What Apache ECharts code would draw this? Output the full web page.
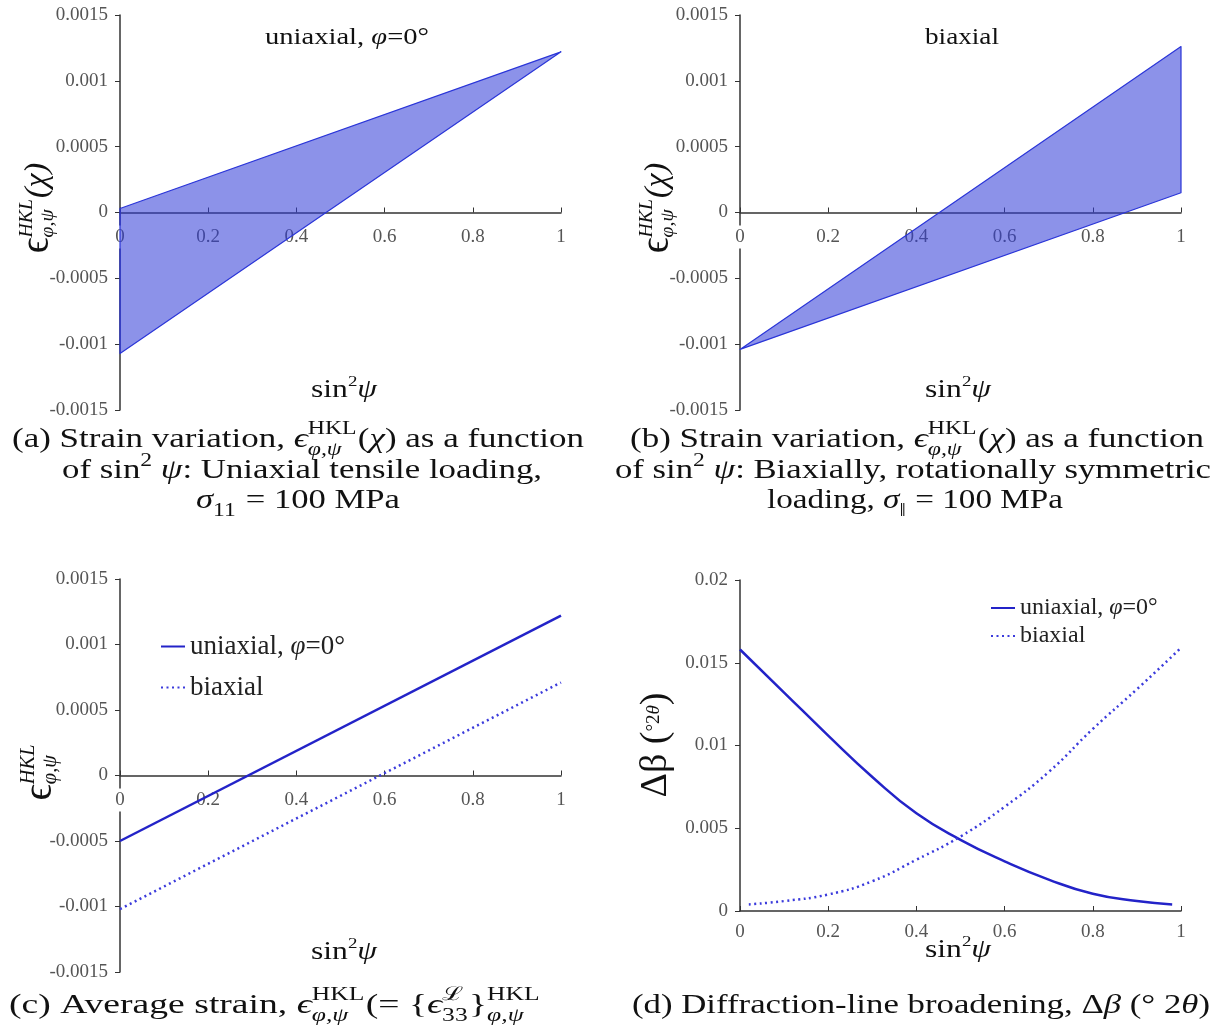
<!DOCTYPE html>
<html>
<head>
<meta charset="utf-8">
<script src="https://cdn.jsdelivr.net/npm/echarts@6/dist/echarts.min.js"></script>
<style>
html, body { margin: 0; padding: 0; background: #fff; }
#main { width: 1221px; height: 1030px; }
</style>
</head>
<body>
<div id="main"></div>
<script>
var SERIF = '"Liberation Serif", "DejaVu Serif", serif';
var UNI = 'uniaxial, φ=0°';
var BI = 'biaxial';
var BLUE = '#2323c8';
var BLUE_DOT = '#3b3bdc';

// (a) corners of the uniaxial scatter band
var uniBandX = [0, 1, 0];
var uniBandY = [0.00003, 0.00122, -0.00107];
// (b) corners of the biaxial scatter band
var biBandX = [0, 1, 1];
var biBandY = [-0.00104, 0.00126, 0.00015];
// (c) average strain
var avgX = [0, 1];
var avgUniY = [-0.0005, 0.00122];
var avgBiY = [-0.00102, 0.00071];
// (d) line broadening
var brdUniX = [0, 0.1, 0.2, 0.3, 0.4, 0.5, 0.6, 0.7, 0.8, 0.9, 0.98];
var brdUniY = [0.0158, 0.0132, 0.0106, 0.0081, 0.0059, 0.0043, 0.0030, 0.0019, 0.00104, 0.0006, 0.0004];
var brdBiX = [0.02, 0.1, 0.2, 0.3, 0.4, 0.5, 0.6, 0.7, 0.8, 0.9, 1];
var brdBiY = [0.0004, 0.0006, 0.0010, 0.0018, 0.0031, 0.0045, 0.0063, 0.0084, 0.0110, 0.0134, 0.0159];

function pairs(xs, ys) {
    return xs.map(function (x, i) { return [x, ys[i]]; });
}

// text helpers (captions and math-ish titles)
var ctx = document.createElement('canvas').getContext('2d');
function measure(t, size, italic) {
    ctx.font = (italic ? 'italic ' : '') + size + 'px ' + SERIF;
    return ctx.measureText(t).width;
}
function txt(t, x, y, size, italic) {
    return {
        type: 'text', x: x, y: y,
        style: {
            text: t, fontSize: size, fontFamily: SERIF,
            fontStyle: italic ? 'italic' : 'normal',
            fill: '#111', align: 'left', verticalAlign: 'middle'
        }
    };
}
// parts: [text, italic, sizeFactor, dy] or {sup, sub, supIt, subIt}
function mathRow(parts, size) {
    var kids = [], x = 0;
    parts.forEach(function (p) {
        if (Array.isArray(p)) {
            var s = size * (p[2] || 1);
            kids.push(txt(p[0], x, (p[3] || 0) * size, s, p[1]));
            x += measure(p[0], s, p[1]);
        } else {
            var s2 = size * 0.68, w = 0;
            if (p.sup) {
                kids.push(txt(p.sup, x, -0.38 * size, s2, p.supIt));
                w = measure(p.sup, s2, p.supIt);
            }
            if (p.sub) {
                kids.push(txt(p.sub, x, 0.34 * size, s2, p.subIt));
                w = Math.max(w, measure(p.sub, s2, p.subIt));
            }
            x += w + 1;
        }
    });
    return { kids: kids, width: x };
}
function textRow(parts, size, cx, cy, width) {
    var r = mathRow(parts, size);
    var sx = width ? width / r.width : 1;
    return { type: 'group', x: cx - r.width * sx / 2, y: cy, scaleX: sx, children: r.kids };
}
function vertTitle(parts, size, cx, cy) {
    var r = mathRow(parts, size);
    return { type: 'group', x: cx, y: cy + r.width / 2, rotation: Math.PI / 2, children: r.kids };
}

var EPS_HKL = { sup: 'HKL', sub: 'φ,ψ', subIt: true };
var SIN2 = [['sin'], ['2', false, 0.6, -0.3], ['ψ', true]];

// x axis sits on the zero line via offset (labels follow it)
function xAx(grid, offset) {
    return {
        type: 'value', gridIndex: grid, min: 0, max: 1, interval: 0.2,
        position: 'bottom', offset: offset,
        axisLine: { onZero: false, lineStyle: { color: '#333', width: 1.5 } },
        axisTick: { inside: true, length: 5, lineStyle: { color: '#333' } },
        axisLabel: {
            fontFamily: SERIF, fontSize: 19, color: '#555', margin: offset ? 13 : 10,
            backgroundColor: '#fff', padding: [2, 1]
        },
        splitLine: { show: false }
    };
}
function yAx(grid, min, max, step) {
    return {
        type: 'value', gridIndex: grid, min: min, max: max, interval: step,
        axisLine: { show: true, onZero: false, lineStyle: { color: '#333', width: 1.5 } },
        axisTick: { show: true, length: 5, lineStyle: { color: '#333' } },
        axisLabel: { fontFamily: SERIF, fontSize: 19, color: '#555', margin: 12 },
        splitLine: { show: false }
    };
}
function band(xs, ys, grid) {
    var pts = pairs(xs, ys);
    return {
        type: 'custom', xAxisIndex: grid, yAxisIndex: grid, data: pts, silent: true,
        renderItem: function (params, api) {
            if (params.dataIndex !== 0) return null;
            return {
                type: 'polygon',
                shape: { points: pts.map(function (p) { return api.coord(p); }) },
                style: { fill: 'rgba(50,60,215,0.56)', stroke: '#2a35d8', lineWidth: 1.2, lineJoin: 'round' }
            };
        }
    };
}
function line(name, pts, grid, dotted, smooth) {
    var c = dotted ? BLUE_DOT : BLUE;
    return {
        name: name, type: 'line', xAxisIndex: grid, yAxisIndex: grid,
        data: pts, showSymbol: false, symbol: 'none', smooth: !!smooth,
        itemStyle: { color: c },
        lineStyle: dotted
            ? { color: c, width: 2.5, type: [2, 3.5] }
            : { color: c, width: 2.5 }
    };
}
function legendAt(left, top, size, gap) {
    return {
        data: [UNI, BI], orient: 'vertical', left: left, top: top,
        itemWidth: 24, itemHeight: 4, itemGap: gap,
        itemStyle: { opacity: 0 },
        formatter: function (n) {
            return n === UNI ? '{r|uniaxial, }{i|φ}{r|=0°}' : '{r|biaxial}';
        },
        textStyle: {
            color: '#222',
            rich: {
                r: { fontFamily: SERIF, fontSize: size, lineHeight: size },
                i: { fontFamily: SERIF, fontSize: size, fontStyle: 'italic', lineHeight: size }
            }
        }
    };
}

var chart = echarts.init(document.getElementById('main'));
chart.setOption({
    animation: false,
    backgroundColor: '#fff',
    grid: [
        { left: 120, top: 15, width: 441, height: 395 },
        { left: 740, top: 15, width: 441, height: 395 },
        { left: 120, top: 579, width: 441, height: 393 },
        { left: 740, top: 580, width: 441, height: 331 }
    ],
    xAxis: [xAx(0, -197.5), xAx(1, -197.5), xAx(2, -196.5), xAx(3, 0)],
    yAxis: [
        yAx(0, -0.0015, 0.0015, 0.0005),
        yAx(1, -0.0015, 0.0015, 0.0005),
        yAx(2, -0.0015, 0.0015, 0.0005),
        yAx(3, 0, 0.02, 0.005)
    ],
    legend: [legendAt(155, 628, 27, 14), legendAt(985, 591, 24, 4)],
    series: [
        band(uniBandX, uniBandY, 0),
        band(biBandX, biBandY, 1),
        line(UNI, pairs(avgX, avgUniY), 2),
        line(BI, pairs(avgX, avgBiY), 2, true),
        line(UNI, pairs(brdUniX, brdUniY), 3, false, true),
        line(BI, pairs(brdBiX, brdBiY), 3, true, true)
    ],
    graphic: { elements: [
        // panel labels
        textRow([['uniaxial, '], ['φ', true], ['=0°']], 24, 347, 38, 164),
        textRow([['biaxial']], 24, 962, 38, 74),
        textRow(SIN2, 26, 344, 390, 66),
        textRow(SIN2, 26, 958, 390, 66),
        textRow(SIN2, 26, 344, 952, 66),
        textRow(SIN2, 26, 958, 950, 66),
        // y titles
        vertTitle([['ϵ', false, 1.35], { sup: 'HKL', supIt: true, sub: 'φ,ψ', subIt: true }, ['(χ)', true, 1.1]], 29, 38, 208),
        vertTitle([['ϵ', false, 1.35], { sup: 'HKL', supIt: true, sub: 'φ,ψ', subIt: true }, ['(χ)', true, 1.1]], 29, 658, 208),
        vertTitle([['ϵ', false, 1.35], { sup: 'HKL', supIt: true, sub: 'φ,ψ', subIt: true }], 30, 40, 772),
        vertTitle([['Δβ (', false, 1], ['°2', false, 0.5, -0.05], ['θ', true, 0.5, -0.05], [')', false, 1]], 38, 656, 745),
        // captions
        textRow([['(a) Strain variation, '], ['ϵ', true], EPS_HKL, ['('], ['χ', true], [') as a function']], 28, 298, 440, 572),
        textRow([['of sin'], ['2', false, 0.68, -0.36], [' '], ['ψ', true], [': Uniaxial tensile loading,']], 28, 302, 471, 480),
        textRow([['σ', true], { sub: '11' }, [' = 100 MPa']], 28, 298, 501, 204),
        textRow([['(b) Strain variation, '], ['ϵ', true], EPS_HKL, ['('], ['χ', true], [') as a function']], 28, 917, 440, 574),
        textRow([['of sin'], ['2', false, 0.68, -0.36], [' '], ['ψ', true], [': Biaxially, rotationally symmetric']], 28, 913, 471, 596),
        textRow([['loading, '], ['σ', true], { sub: '‖' }, [' = 100 MPa']], 28, 915, 501, 296),
        textRow([['(c) Average strain, '], ['ϵ', true], EPS_HKL, ['(= {'], ['ϵ', true], { sup: 'ℒ', sub: '33' }, ['}'], EPS_HKL], 28, 275, 1006, 532),
        textRow([['(d) Diffraction-line broadening, Δ'], ['β', true], [' (° 2'], ['θ', true], [')']], 28, 921, 1006, 578)
    ] }
});
</script>
</body>
</html>
